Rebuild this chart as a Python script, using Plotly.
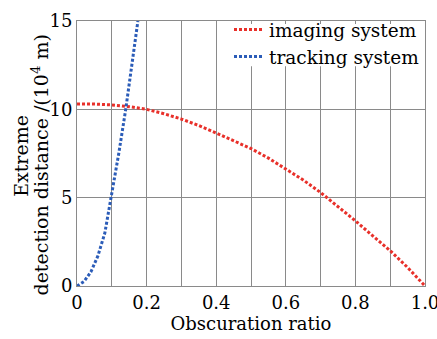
import plotly.graph_objects as go

# Imaging system curve
img_x = [0, 0.05, 0.1, 0.15, 0.2, 0.25, 0.3, 0.35, 0.4, 0.45, 0.5, 0.55, 0.6, 0.65, 0.7, 0.75, 0.8, 0.85, 0.9, 0.95, 1.0]
img_y = [10.3, 10.3, 10.25, 10.15, 10.0, 9.75, 9.45, 9.08, 8.66, 8.24, 7.78, 7.24, 6.64, 6.0, 5.29, 4.51, 3.69, 2.84, 2.0, 1.05, 0.0]

# Tracking system curve
trk_x = [0, 0.02, 0.04, 0.06, 0.08, 0.1, 0.12, 0.14, 0.16, 0.175]
trk_y = [0, 0.25, 0.8, 1.7, 3.0, 5.2, 7.5, 10.0, 12.8, 15.0]

x_ticks = [0, 0.2, 0.4, 0.6, 0.8, 1.0]
x_tick_text = ["0", "0.2", "0.4", "0.6", "0.8", "1.0"]
y_ticks = [0, 5, 10, 15]
y_title_lines = ["Extreme", "detection distance /(10<sup>4</sup> m)"]

font = "DejaVu Serif, Liberation Serif, serif"

fig = go.Figure()
fig.add_trace(go.Scatter(x=img_x, y=img_y, mode="lines", name="imaging system",
                         line=dict(color="#e8302a", width=3, dash="3px,2px")))
fig.add_trace(go.Scatter(x=trk_x, y=trk_y, mode="lines", name="tracking system",
                         line=dict(color="#2b5cb8", width=3, dash="3px,2px")))

# two-line y-axis title
fig.add_annotation(text=y_title_lines[0], xref="paper", yref="paper", x=-0.161, y=0.491,
                   xanchor="center", yanchor="middle", textangle=-90, showarrow=False,
                   font=dict(size=19, family=font, color="black"))
fig.add_annotation(text=y_title_lines[1], xref="paper", yref="paper", x=-0.106, y=0.455,
                   xanchor="center", yanchor="middle", textangle=-90, showarrow=False,
                   font=dict(size=19, family=font, color="black"))

# white legend backdrop inside the frame
fig.add_shape(type="rect", xref="paper", yref="paper", x0=0.445, x1=0.994, y0=0.829, y1=0.989,
              fillcolor="white", line=dict(width=0), layer="above")

fig.update_layout(
    width=437, height=339,
    margin=dict(l=77, r=12, t=11, b=53),
    paper_bgcolor="white", plot_bgcolor="white",
    font=dict(family=font, color="black", size=18),
    legend=dict(x=1, y=1.038, xanchor="right", yanchor="top", bgcolor="rgba(0,0,0,0)",
                font=dict(size=18.5), itemwidth=30, tracegroupgap=0,
                borderwidth=0),
    xaxis=dict(range=[0, 1], tickvals=x_ticks, ticktext=x_tick_text,
               showgrid=True, gridcolor="#8a8a8a", gridwidth=1,
               minor=dict(dtick=0.1, showgrid=True, gridcolor="#8a8a8a", gridwidth=1),
               showline=True, linecolor="#8a8a8a", mirror=True, zeroline=False,
               ticks="", tickfont=dict(size=18), automargin=False,
               ticklabeloverflow="allow",
               title=dict(text="Obscuration ratio", font=dict(size=18), standoff=0)),
    yaxis=dict(range=[0, 15], tickvals=y_ticks,
               showgrid=True, gridcolor="#8a8a8a", gridwidth=1,
               showline=True, linecolor="#8a8a8a", mirror=True, zeroline=False,
               ticks="", tickfont=dict(size=18), automargin=False,
               ticklabeloverflow="allow"),
)

fig.write_html("out.html", config={"displayModeBar": False},
               post_script="document.body.style.margin='0';")
